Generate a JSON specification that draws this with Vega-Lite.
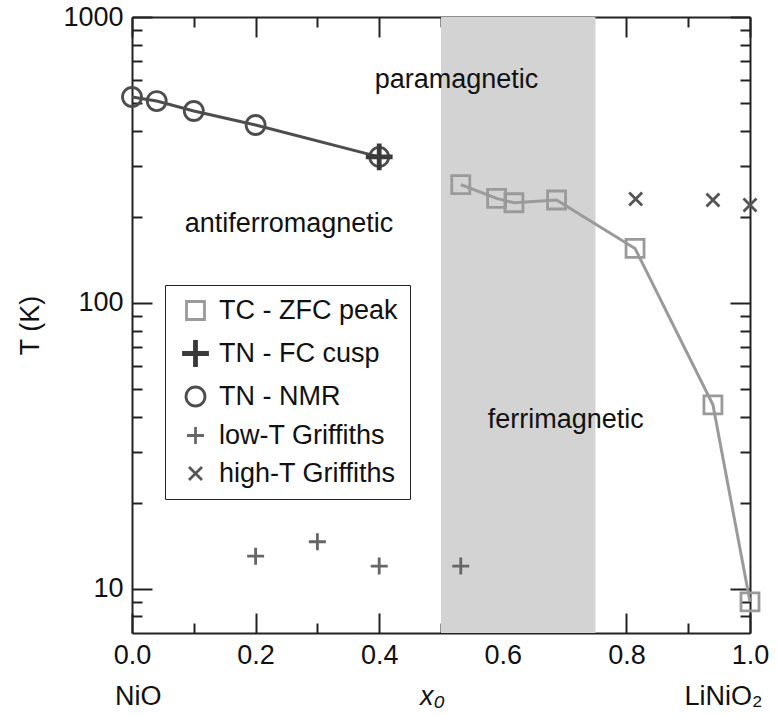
{
  "$schema": "https://vega.github.io/schema/vega-lite/v6.json",
  "width": 618,
  "height": 616,
  "autosize": {"type": "none"},
  "padding": {"left": 132, "top": 17, "right": 28, "bottom": 83},
  "background": "white",
  "config": {
    "view": {"stroke": null},
    "font": "Liberation Sans",
    "axis": {
      "domainColor": "#222",
      "domainWidth": 2,
      "tickColor": "#222",
      "tickWidth": 2,
      "labelFont": "Liberation Sans",
      "labelFontSize": 27,
      "labelColor": "#111",
      "labelFlush": false,
      "labelOverlap": false,
      "titleFont": "Liberation Sans",
      "titleFontSize": 27,
      "titleFontWeight": "normal",
      "titleColor": "#111",
      "grid": false
    },
    "legend": {
      "labelFont": "Liberation Sans",
      "labelFontSize": 27,
      "labelColor": "#111",
      "labelLimit": 400
    }
  },
  "datasets": {
    "pts": [
      {"series": "TC - ZFC peak", "x": 0.532, "T": 259},
      {"series": "TC - ZFC peak", "x": 0.59, "T": 232},
      {"series": "TC - ZFC peak", "x": 0.618, "T": 224},
      {"series": "TC - ZFC peak", "x": 0.687, "T": 229},
      {"series": "TC - ZFC peak", "x": 0.814, "T": 155},
      {"series": "TC - ZFC peak", "x": 0.94, "T": 44},
      {"series": "TC - ZFC peak", "x": 1.0, "T": 9.0},
      {"series": "TN - NMR", "x": 0.0, "T": 525},
      {"series": "TN - NMR", "x": 0.04, "T": 508},
      {"series": "TN - NMR", "x": 0.1, "T": 469},
      {"series": "TN - NMR", "x": 0.2, "T": 419},
      {"series": "TN - NMR", "x": 0.4, "T": 324},
      {"series": "TN - FC cusp", "x": 0.4, "T": 324},
      {"series": "low-T Griffiths", "x": 0.2, "T": 13.0},
      {"series": "low-T Griffiths", "x": 0.3, "T": 14.6},
      {"series": "low-T Griffiths", "x": 0.4, "T": 12.0},
      {"series": "low-T Griffiths", "x": 0.532, "T": 12.0},
      {"series": "high-T Griffiths", "x": 0.815, "T": 231},
      {"series": "high-T Griffiths", "x": 0.94, "T": 229},
      {"series": "high-T Griffiths", "x": 1.0, "T": 220}
    ],
    "annot": [
      {"label": "paramagnetic", "x": 0.525, "T": 565},
      {"label": "antiferromagnetic", "x": 0.254, "T": 177},
      {"label": "ferrimagnetic", "x": 0.702, "T": 36.6}
    ],
    "bottom": [
      {"label": "NiO", "x": 0.01, "T": 3.93},
      {"label": "LiNiO₂", "x": 0.957, "T": 3.93}
    ],
    "xtitle": [
      {"label": "x₀", "x": 0.486, "T": 3.93}
    ]
  },
  "layer": [
    {
      "data": {"values": [{"x0": 0.5, "x1": 0.75}]},
      "mark": {"type": "rect", "color": "#d3d3d3"},
      "encoding": {
        "x": {"field": "x0", "type": "quantitative", "scale": {"domain": [0, 1], "nice": false, "zero": false}, "axis": null},
        "x2": {"field": "x1"}
      }
    },
    {
      "data": {"name": "pts"},
      "transform": [{"filter": "datum.series == 'TN - NMR'"}],
      "mark": {"type": "line", "color": "#4d4d4d", "strokeWidth": 3},
      "encoding": {
        "x": {"field": "x", "type": "quantitative", "scale": {"domain": [0, 1], "nice": false, "zero": false},
          "axis": {"orient": "bottom", "values": [0, 0.2, 0.4, 0.6, 0.8, 1.0], "format": ".1f", "tickSize": -20, "labelPadding": 29, "title": null, "domain": true}},
        "y": {"field": "T", "type": "quantitative", "scale": {"type": "log", "domain": [7, 1000], "nice": false},
          "axis": {"orient": "left", "values": [10, 100, 1000], "format": "d", "tickSize": -20, "labelPadding": 29, "title": "T (K)", "titlePadding": 18, "domain": true}}
      }
    },
    {
      "data": {"name": "pts"},
      "transform": [{"filter": "datum.series == 'TC - ZFC peak'"}],
      "mark": {"type": "line", "color": "#9a9a9a", "strokeWidth": 3},
      "encoding": {
        "x": {"field": "x", "type": "quantitative", "scale": {"domain": [0, 1], "nice": false, "zero": false},
          "axis": {"orient": "bottom", "values": [0.1, 0.3, 0.5, 0.7, 0.9], "labels": false, "tickSize": -10, "title": null, "domain": false}},
        "y": {"field": "T", "type": "quantitative", "scale": {"type": "log", "domain": [7, 1000], "nice": false},
          "axis": {"orient": "left", "values": [8, 9, 20, 30, 40, 50, 60, 70, 80, 90, 200, 300, 400, 500, 600, 700, 800, 900], "labels": false, "tickSize": -10, "title": null, "domain": false}}
      }
    },
    {
      "data": {"name": "pts"},
      "mark": {"type": "point", "filled": false, "opacity": 1, "size": 400, "strokeWidth": 2.8},
      "encoding": {
        "x": {"field": "x", "type": "quantitative", "scale": {"domain": [0, 1], "nice": false, "zero": false},
          "axis": {"orient": "top", "values": [0, 0.2, 0.4, 0.6, 0.8, 1.0], "labels": false, "tickSize": -20, "title": null, "domain": true}},
        "y": {"field": "T", "type": "quantitative", "scale": {"type": "log", "domain": [7, 1000], "nice": false},
          "axis": {"orient": "right", "values": [10, 100, 1000], "labels": false, "tickSize": -20, "title": null, "domain": true}},
        "color": {"field": "series", "type": "nominal",
          "scale": {"domain": ["TC - ZFC peak", "TN - FC cusp", "TN - NMR", "low-T Griffiths", "high-T Griffiths"],
                    "range": ["#9a9a9a", "#3a3a3a", "#4d4d4d", "#666666", "#555555"]},
          "legend": {"title": null, "orient": "none", "legendX": 33, "legendY": 268, "strokeColor": "#222", "fillColor": "white", "padding": 12, "rowPadding": 9, "labelOffset": 10, "symbolOffset": 5, "symbolSize": 400, "symbolStrokeWidth": 2.8}},
        "shape": {"field": "series", "type": "nominal",
          "scale": {"domain": ["TC - ZFC peak", "TN - FC cusp", "TN - NMR", "low-T Griffiths", "high-T Griffiths"],
                    "range": [
                      "M-0.9,-0.9H0.9V0.9H-0.9Z",
                      "M-0.1,-1.2H0.1V-0.1H1.2V0.1H0.1V1.2H-0.1V0.1H-1.2V-0.1H-0.1Z",
                      "M-0.95,0A0.95,0.95,0,1,1,0.95,0A0.95,0.95,0,1,1,-0.95,0Z",
                      "M-0.85,0H0.85M0,-0.85V0.85",
                      "M-0.65,-0.65L0.65,0.65M0.65,-0.65L-0.65,0.65"
                    ]},
          "legend": {"title": null, "orient": "none", "legendX": 33, "legendY": 268, "strokeColor": "#222", "fillColor": "white", "padding": 12, "rowPadding": 9, "labelOffset": 10, "symbolOffset": 5, "symbolSize": 400, "symbolStrokeWidth": 2.8}}
      }
    },
    {
      "data": {"name": "annot"},
      "mark": {"type": "text", "fontSize": 27, "font": "Liberation Sans", "color": "#111", "align": "center", "baseline": "alphabetic"},
      "encoding": {
        "x": {"field": "x", "type": "quantitative", "scale": {"domain": [0, 1], "nice": false, "zero": false},
          "axis": {"orient": "top", "values": [0.1, 0.3, 0.5, 0.7, 0.9], "labels": false, "tickSize": -10, "title": null, "domain": false}},
        "y": {"field": "T", "type": "quantitative", "scale": {"type": "log", "domain": [7, 1000], "nice": false},
          "axis": {"orient": "right", "values": [8, 9, 20, 30, 40, 50, 60, 70, 80, 90, 200, 300, 400, 500, 600, 700, 800, 900], "labels": false, "tickSize": -10, "title": null, "domain": false}},
        "text": {"field": "label"}
      }
    },
    {
      "data": {"name": "bottom"},
      "mark": {"type": "text", "fontSize": 27, "font": "Liberation Sans", "color": "#111", "align": "center", "baseline": "alphabetic"},
      "encoding": {
        "x": {"field": "x", "type": "quantitative", "scale": {"domain": [0, 1], "nice": false, "zero": false}, "axis": null},
        "y": {"field": "T", "type": "quantitative", "scale": {"type": "log", "domain": [7, 1000], "nice": false}, "axis": null},
        "text": {"field": "label"}
      }
    },
    {
      "data": {"name": "xtitle"},
      "mark": {"type": "text", "fontSize": 27, "font": "Liberation Sans", "fontStyle": "italic", "color": "#111", "align": "center", "baseline": "alphabetic"},
      "encoding": {
        "x": {"field": "x", "type": "quantitative", "scale": {"domain": [0, 1], "nice": false, "zero": false}, "axis": null},
        "y": {"field": "T", "type": "quantitative", "scale": {"type": "log", "domain": [7, 1000], "nice": false}, "axis": null},
        "text": {"field": "label"}
      }
    }
  ],
  "resolve": {"axis": {"x": "independent", "y": "independent"}}
}
